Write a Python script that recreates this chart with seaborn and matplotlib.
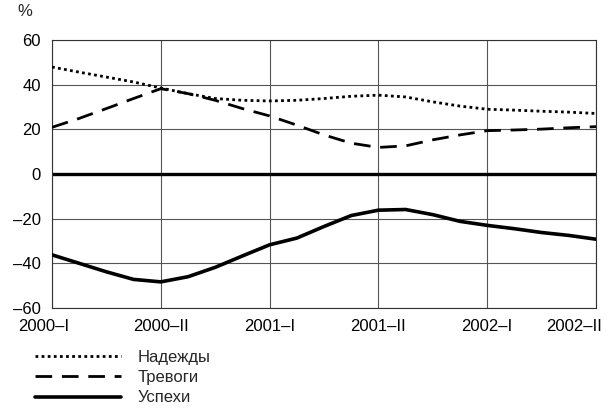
import matplotlib
matplotlib.use("Agg")
import matplotlib.pyplot as plt
import matplotlib.transforms as mtrans
import seaborn as sns
import pandas as pd

periods = ["2000–I", "2000–II", "2001–I", "2001–II", "2002–I", "2002–II"]
x_pos = [0, 0.25, 0.5, 0.75, 1, 1.25, 1.5, 1.75, 2, 2.25, 2.5,
         2.75, 3, 3.25, 3.5, 3.75, 4, 4.25, 4.5, 4.75, 5]

hopes = [47.9, 45.6, 43.4, 41.2, 38.5, 36.0, 33.8, 33.0, 32.7, 33.0, 33.8,
         34.8, 35.3, 34.5, 32.3, 30.4, 29.0, 28.6, 28.1, 27.7, 27.1]
fears = [20.9, 24.9, 29.3, 33.8, 38.2, 36.0, 33.0, 29.3, 26.0, 21.9, 17.5,
         13.8, 11.9, 12.6, 15.3, 17.5, 19.4, 19.7, 20.1, 20.7, 21.2]
success = [-36.2, -40.0, -43.8, -47.2, -48.3, -46.0, -41.8, -36.7, -31.7, -28.7, -23.5,
           -18.6, -16.2, -15.9, -18.2, -21.2, -23.0, -24.5, -26.2, -27.5, -29.2]

y_ticks = [60, 40, 20, 0, -20, -40, -60]

sns.set_style("white")
plt.rcParams['font.family'] = ['Liberation Sans', 'DejaVu Sans']

fig = plt.figure(figsize=(6.07, 4.12), dpi=100)
ax = fig.add_axes([52 / 607, 1 - 308 / 412, 544 / 607, 268 / 412])

# сетка
for i in range(len(periods)):
    ax.axvline(i, color="#555555", lw=0.8, zorder=1)
for v in y_ticks:
    ax.axhline(v, color="#555555", lw=0.8, zorder=1)
ax.axhline(0, color="black", lw=2.4, zorder=2)

df = pd.DataFrame({"x": x_pos, "hopes": hopes, "fears": fears, "success": success})
sns.lineplot(data=df, x="x", y="hopes", ax=ax, color="black", lw=2.0,
             linestyle=(0, (1, 1.2)), label="Надежды", zorder=3)
sns.lineplot(data=df, x="x", y="fears", ax=ax, color="black", lw=2.0,
             linestyle=(0, (6, 3.5)), label="Тревоги", zorder=3)
sns.lineplot(data=df, x="x", y="success", ax=ax, color="black", lw=2.6,
             label="Успехи", zorder=3)

ax.set_xlim(0, 5)
ax.set_ylim(-60, 60)
ax.set_xticks(range(len(periods)))
ax.set_xticklabels(periods)
ax.set_yticks(y_ticks)
ax.set_yticklabels([str(v).replace("-", "–") for v in y_ticks])
ax.tick_params(axis="both", length=0, labelsize=12, colors="black")
ax.tick_params(axis="x", pad=8)
ax.tick_params(axis="y", pad=8)
ax.set_xlabel("")
ax.set_ylabel("")
for s in ax.spines.values():
    s.set_color("#333333")
    s.set_linewidth(0.8)

# крайние подписи сдвинуты, как в оригинале
xlabels = ax.get_xticklabels()
xlabels[0].set_transform(xlabels[0].get_transform() +
                         mtrans.ScaledTranslation(-8 / 100, 0, fig.dpi_scale_trans))
xlabels[-1].set_horizontalalignment("right")
xlabels[-1].set_transform(xlabels[-1].get_transform() +
                          mtrans.ScaledTranslation(6 / 100, 0, fig.dpi_scale_trans))

fig.text(25 / 607, 1 - 12 / 412, "%", fontsize=12, ha="center", va="center")

handles, labels = ax.get_legend_handles_labels()
ax.get_legend().remove()
fig.legend(handles, labels, loc="upper left", bbox_to_anchor=(28 / 607, 1 - 343 / 412),
           frameon=False, fontsize=12, handlelength=5.2, handletextpad=1.0,
           labelspacing=0.32, borderaxespad=0)

fig.savefig("out.png", dpi=100)
